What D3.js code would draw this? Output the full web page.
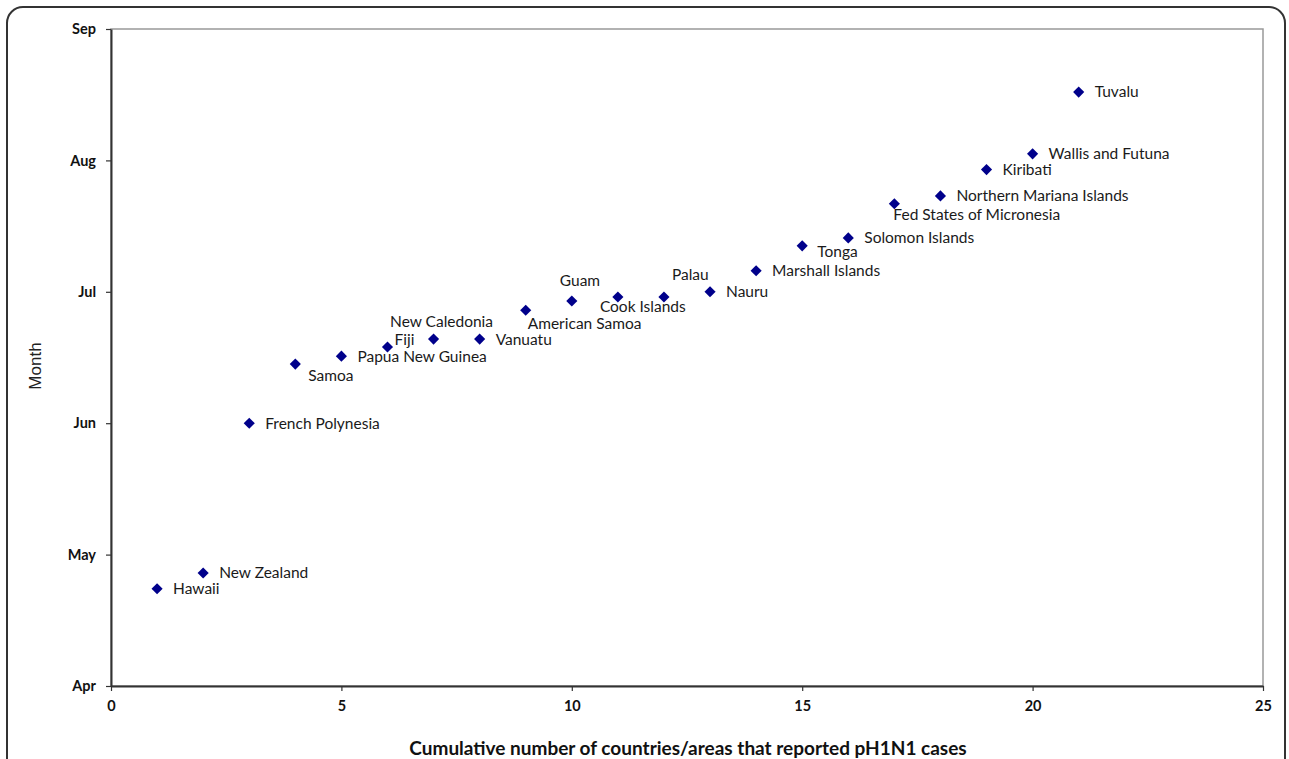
<!DOCTYPE html>
<html>
<head>
<meta charset="utf-8">
<script src="https://cdn.jsdelivr.net/npm/d3@7"></script>
<style>
  body { margin: 0; background: #fff; }
  svg { display: block; }
</style>
</head>
<body>
<div id="chart"></div>
<script>
// data
var places = ["Hawaii", "New Zealand", "French Polynesia", "Samoa", "Papua New Guinea", "Fiji",
  "New Caledonia", "Vanuatu", "American Samoa", "Guam", "Cook Islands", "Palau", "Nauru",
  "Marshall Islands", "Tonga", "Solomon Islands", "Fed States of Micronesia",
  "Northern Mariana Islands", "Kiribati", "Wallis and Futuna", "Tuvalu"];
var cumulative = [1, 2, 3, 4, 5, 6, 7, 8, 9, 10, 11, 12, 13, 14, 15, 16, 17, 18, 19, 20, 21];
// month as a number (4 = start of Apr, 5 = start of May ...)
var month = [4.74, 4.86, 6.0, 6.45, 6.51, 6.58, 6.64, 6.64, 6.86, 6.93, 6.96, 6.96, 7.0,
  7.16, 7.35, 7.41, 7.67, 7.73, 7.93, 8.05, 8.52];
var monthTicks = [4, 5, 6, 7, 8, 9];
var monthNames = ["Apr", "May", "Jun", "Jul", "Aug", "Sep"];
var xTicks = [0, 5, 10, 15, 20, 25];

var svgWidth = 1289;
var svgHeight = 759;
var margin = { top: 29, right: 26, bottom: 73, left: 111 };
var chartWidth = svgWidth - margin.left - margin.right;
var chartHeight = svgHeight - margin.top - margin.bottom;

var svg = d3.select("#chart")
  .append("svg")
  .attr("width", svgWidth)
  .attr("height", svgHeight);

// rounded frame round the figure (open at the bottom)
svg.append("rect")
  .attr("x", 7).attr("y", 7)
  .attr("width", 1278).attr("height", 800)
  .attr("rx", 16)
  .attr("fill", "none")
  .attr("stroke", "#333")
  .attr("stroke-width", 2);

var chartGroup = svg.append("g")
  .attr("transform", `translate(${margin.left}, ${margin.top})`);

var x = d3.scaleLinear().domain([0, 25]).range([0, chartWidth]);
var y = d3.scaleLinear().domain([4, 9]).range([chartHeight, 0]);

// plot area border (top and right are gray)
chartGroup.append("rect")
  .attr("width", chartWidth)
  .attr("height", chartHeight)
  .attr("fill", "none")
  .attr("stroke", "#999")
  .attr("stroke-width", 1.5);

var xAxis = d3.axisBottom(x).tickValues(xTicks).tickSizeInner(5).tickSizeOuter(0).tickPadding(10);
var yAxis = d3.axisLeft(y).tickValues(monthTicks)
  .tickFormat((d, i) => monthNames[i]).tickSizeInner(5).tickSizeOuter(0).tickPadding(10);

var gx = chartGroup.append("g")
  .attr("transform", `translate(0, ${chartHeight})`)
  .call(xAxis);
var gy = chartGroup.append("g").call(yAxis);

[gx, gy].forEach(function(g) {
  g.select(".domain").attr("stroke", "#333").attr("stroke-width", 2);
  g.selectAll(".tick line").attr("stroke", "#333").attr("stroke-width", 1.2);
  g.selectAll(".tick text")
    .style("font-family", "Lato, 'Open Sans', sans-serif")
    .style("font-weight", "bold")
    .style("font-size", "14.5px")
    .attr("fill", "#111");
});

// points
var points = places.map((p, i) => ({ name: p, x: cumulative[i], y: month[i] }));

chartGroup.selectAll("path.pt")
  .data(points)
  .enter()
  .append("path")
  .attr("class", "pt")
  .attr("d", d3.symbol(d3.symbolSquare).size(62))
  .attr("transform", d => `translate(${x(d.x)}, ${y(d.y)}) rotate(45)`)
  .style("fill", "#00008B");

// where each label sits relative to its point
var placeAt = {
  "Samoa": [13, 12, "start"],
  "Fiji": [7, -7, "start"],
  "New Caledonia": [8, -18, "middle"],
  "American Samoa": [2, 13, "start"],
  "Guam": [-12, -20, "start"],
  "Cook Islands": [-18, 10, "start"],
  "Palau": [8, -22, "start"],
  "Tonga": [15, 6, "start"],
  "Fed States of Micronesia": [-1, 11, "start"]
};

chartGroup.selectAll("text.lbl")
  .data(points)
  .enter()
  .append("text")
  .attr("class", "lbl")
  .attr("x", d => x(d.x) + (placeAt[d.name] ? placeAt[d.name][0] : 16))
  .attr("y", d => y(d.y) + (placeAt[d.name] ? placeAt[d.name][1] : 0))
  .attr("dy", "0.35em")
  .attr("text-anchor", d => placeAt[d.name] ? placeAt[d.name][2] : "start")
  .style("font-family", "Lato, 'Open Sans', sans-serif")
  .style("font-size", "15.5px")
  .style("fill", "#1a1a1a")
  .text(d => d.name);

// X axis label
svg.append("text")
  .attr("text-anchor", "middle")
  .attr("x", 688)
  .attr("y", 755)
  .style("font-family", "Lato, 'Open Sans', sans-serif")
  .style("font-weight", "bold")
  .style("font-size", "19px")
  .style("fill", "#111")
  .text("Cumulative number of countries/areas that reported pH1N1 cases");

// Y axis label
svg.append("text")
  .attr("text-anchor", "middle")
  .attr("transform", "rotate(-90)")
  .attr("x", -366)
  .attr("y", 41)
  .style("font-family", "'Liberation Sans', Arial, sans-serif")
  .style("font-size", "17px")
  .style("fill", "#222")
  .text("Month");
</script>
</body>
</html>
